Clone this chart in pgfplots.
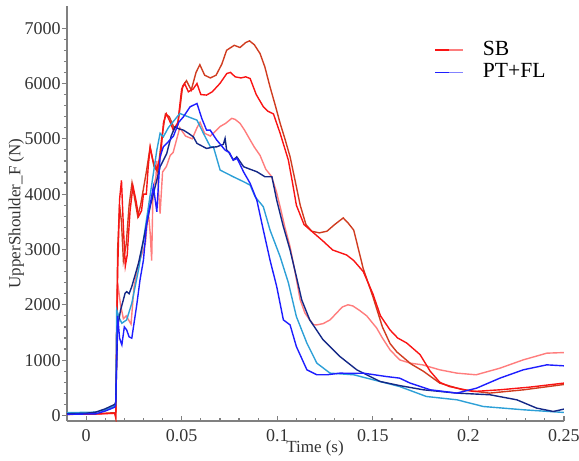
\documentclass[border=0pt]{standalone}
\usepackage{fontspec}
\setmainfont{Liberation Serif}
\usepackage{pgfplots}
\pgfplotsset{compat=1.18}

\definecolor{sbdark}{RGB}{208,60,32}
\definecolor{sbred}{RGB}{250,20,20}
\definecolor{sblight}{RGB}{255,125,125}
\definecolor{ptblue}{RGB}{30,30,255}
\definecolor{ptnavy}{RGB}{20,40,135}
\definecolor{ptcyan}{RGB}{45,160,215}

\begin{document}
\begin{tikzpicture}
% page = reference frame, axis box lower left at (0,0)
\useasboundingbox (-33.5pt,-20pt) rectangle (256pt,210.5pt);
\begin{axis}[
  scale only axis,
  at={(0pt,0pt)}, anchor=south west,
  width=248.5pt, height=207.5pt,
  xmin=-0.01, xmax=0.25,
  ymin=-100, ymax=7400,
  axis lines=left,
  axis line style={-, draw=gray, line width=0.9pt},
  xtick={0,0.05,0.1,0.15,0.2,0.25},
  xticklabels={0,0.05,0.1,0.15,0.2,0.25},
  minor x tick num=4,
  ytick={0,1000,2000,3000,4000,5000,6000,7000},
  yticklabels={0,1000,2000,3000,4000,5000,6000,7000},
  minor y tick num=4,
  x tick style={draw=gray, line width=0.6pt},
  y tick style={draw=gray, line width=0.6pt},
  xtick align=inside, ytick align=outside,
  major tick length=2.6pt, minor tick length=1.6pt,
  ticklabel style={font=\fontsize{9}{10}\selectfont, text=black!80},
  yticklabel style={xshift=3pt},
  xticklabel style={yshift=-0.5pt},
  xlabel={Time (s)},
  ylabel={UpperShoulder\_F (N)},
  label style={font=\fontsize{8.5}{10}\selectfont, text=black!80},
  xlabel style={at={(rel axis cs:0.499,-0.066)}, anchor=center},
  ylabel style={at={(rel axis cs:-0.102,0.50)}, anchor=center},
  legend style={at={(rel axis cs:0.738,0.925)}, anchor=north west, draw=none, fill=none,
    font=\fontsize{10.8}{12}\selectfont, row sep=-1.5pt, inner sep=0pt, column sep=7.5pt},
  legend cell align=left,
  legend image code/.code={
    \draw[#1, line width=0.9pt] (0pt,0pt) -- (7pt,0pt);
    \draw[#1, line width=0.9pt, opacity=0.55] (7pt,0pt) -- (14pt,0pt);
  },
  every axis plot/.append style={line width=0.7pt},
]

% SB, lightest
\addplot[sblight, forget plot] coordinates {
(-0.01,30)(0.005,30)(0.015,40)(0.0155,0)(0.016,1400)(0.0165,2400)(0.018,2000)
(0.0195,1750)(0.021,1800)(0.0235,1650)(0.025,2300)(0.027,2700)(0.029,2900)
(0.031,3100)(0.0325,3700)(0.0335,3300)(0.0343,2800)(0.035,4100)(0.0365,4300)
(0.037,4600)(0.038,4000)(0.0387,3650)(0.040,4400)(0.042,4500)(0.044,4700)
(0.0455,4750)(0.049,5200)(0.052,5050)(0.0555,5000)(0.058,5200)(0.0596,5300)
(0.062,5100)(0.065,5050)(0.068,5150)(0.070,5220)(0.073,5280)(0.0762,5370)
(0.078,5350)(0.0805,5280)(0.083,5150)(0.0858,4980)(0.088,4850)(0.091,4700)
(0.094,4450)(0.097,4320)(0.0995,4050)(0.1015,3773)(0.104,3400)(0.1067,3050)
(0.109,2650)(0.112,2088)(0.1145,1850)(0.117,1727)(0.119,1640)(0.1207,1637)
(0.124,1660)(0.1276,1727)(0.131,1850)(0.134,1960)(0.137,2000)(0.1395,1980)
(0.143,1900)(0.1468,1800)(0.152,1580)(0.155,1400)(0.159,1186)(0.164,1005)
(0.1695,946)(0.176,915)(0.185,825)(0.194,765)(0.204,735)(0.2165,855)
(0.2287,1005)(0.241,1126)(0.250,1137)
};

% SB, dark
\addplot[sbdark, forget plot] coordinates {
(-0.01,30)(0.005,30)(0.015,50)(0.0155,-40)(0.016,1500)(0.0165,3000)(0.0175,3800)
(0.0185,3500)(0.0195,2800)(0.021,3100)(0.0225,3800)(0.024,4200)(0.0255,3900)
(0.027,3600)(0.0285,3800)(0.030,4100)(0.0315,4400)(0.0335,4850)(0.0355,4500)
(0.0375,4400)(0.0395,5000)(0.0415,5450)(0.0435,5400)(0.046,5200)(0.048,5250)
(0.0505,5950)(0.0525,6050)(0.055,5880)(0.0575,6200)(0.0595,6340)(0.062,6150)
(0.065,6100)(0.068,6150)(0.071,6350)(0.0735,6600)(0.0775,6690)(0.0805,6650)
(0.0835,6740)(0.0855,6770)(0.088,6700)(0.091,6540)(0.0935,6300)(0.0962,5940)
(0.099,5600)(0.1015,5280)(0.104,5000)(0.1067,4675)(0.109,4300)(0.112,3800)
(0.115,3450)(0.118,3330)(0.122,3300)(0.126,3330)(0.130,3450)(0.1345,3570)
(0.137,3480)(0.140,3350)(0.145,2650)(0.150,2150)(0.155,1600)(0.159,1300)
(0.1625,1150)(0.170,930)(0.1764,800)(0.185,585)(0.197,464)(0.211,404)
(0.229,464)(0.250,560)
};

% SB, red
\addplot[sbred] coordinates {
(-0.01,20)(0.005,25)(0.015,40)(0.0155,-30)(0.016,1500)(0.0165,2600)(0.0175,3900)
(0.0185,4250)(0.0195,3400)(0.0205,2700)(0.0215,2900)(0.023,3700)(0.0245,4150)
(0.026,3900)(0.0275,3600)(0.029,3700)(0.030,4000)(0.0315,4000)(0.0325,4500)
(0.0335,4850)(0.035,4600)(0.037,4450)(0.039,4700)(0.0405,5300)(0.042,5450)
(0.044,5300)(0.0457,5150)(0.048,5300)(0.050,5900)(0.0515,6000)(0.0535,5850)
(0.056,5900)(0.058,6000)(0.060,5800)(0.063,5790)(0.066,5850)(0.070,6000)
(0.0736,6180)(0.0755,6200)(0.078,6120)(0.081,6100)(0.0835,6120)(0.0858,6090)
(0.089,5800)(0.0927,5580)(0.095,5500)(0.098,5450)(0.1015,5100)(0.1058,4615)
(0.108,4200)(0.110,3800)(0.114,3450)(0.119,3300)(0.124,3150)(0.129,2990)
(0.1363,2900)(0.140,2800)(0.145,2600)(0.150,2200)(0.154,1800)(0.159,1545)
(0.163,1400)(0.1677,1310)(0.1747,1100)(0.180,800)(0.185,600)(0.190,523)
(0.2026,433)(0.2165,464)(0.232,512)(0.250,585)
};
\addlegendentry{SB}

% PT+FL, cyan
\addplot[ptcyan, forget plot] coordinates {
(-0.01,50)(0.005,60)(0.010,100)(0.015,170)(0.0155,200)(0.016,1908)(0.0175,1750)
(0.0187,1667)(0.0212,1727)(0.0239,2029)(0.0274,2630)(0.030,3171)(0.0352,4375)
(0.037,4796)(0.0387,5100)(0.0404,5036)(0.043,5200)(0.0465,5350)(0.049,5458)
(0.0535,5397)(0.058,5337)(0.0614,5097)(0.065,4855)(0.0666,4855)(0.0701,4435)
(0.077,4314)(0.0824,4224)(0.0858,4164)(0.0884,3953)(0.0927,3773)(0.0962,3352)
(0.1015,2870)(0.1058,2400)(0.110,1787)(0.1155,1307)(0.1207,946)(0.1276,765)
(0.140,735)(0.1503,644)(0.164,523)(0.178,343)(0.194,283)(0.2078,162)
(0.2287,103)(0.250,54)
};

% PT+FL, navy
\addplot[ptnavy, forget plot] coordinates {
(-0.01,30)(0.0,40)(0.005,60)(0.010,120)(0.015,200)(0.0155,250)(0.0165,1600)
(0.018,1900)(0.0204,2209)(0.0212,2238)(0.0225,2200)(0.0239,2330)(0.0274,2750)
(0.030,3171)(0.0335,3773)(0.0387,4495)(0.0422,4736)(0.0445,5050)(0.0465,5217)
(0.0485,5180)(0.0509,5157)(0.0535,5100)(0.0561,5036)(0.058,4917)(0.0614,4855)
(0.063,4826)(0.0666,4850)(0.0683,4855)(0.0718,4900)(0.0727,5007)(0.0735,4800)
(0.0745,4765)(0.077,4615)(0.0788,4675)(0.0824,4495)(0.0858,4450)(0.0893,4405)
(0.0936,4314)(0.0972,4314)(0.0997,3893)(0.1032,3412)(0.1067,2990)(0.110,2509)
(0.1128,2088)(0.117,1727)(0.124,1366)(0.1328,1065)(0.1416,825)(0.1538,614)
(0.164,540)(0.1764,464)(0.194,404)(0.2113,374)(0.2253,283)(0.2357,133)
(0.2444,72)(0.250,115)
};

% PT+FL, blue
\addplot[ptblue] coordinates {
(-0.01,20)(0.005,30)(0.010,80)(0.015,150)(0.0155,200)(0.0165,1800)(0.0175,1400)
(0.0187,1276)(0.020,1600)(0.0212,1547)(0.0225,1420)(0.0239,1397)(0.0265,2000)
(0.0282,2450)(0.030,2810)(0.0317,3473)(0.0352,4134)(0.037,3682)(0.0387,4675)
(0.0404,4855)(0.0422,4917)(0.0457,5050)(0.0485,5300)(0.0509,5397)(0.0544,5578)
(0.058,5639)(0.0605,5370)(0.063,5157)(0.0649,5157)(0.0683,4980)(0.0727,4796)
(0.075,4750)(0.077,4615)(0.079,4646)(0.0824,4400)(0.0858,4195)(0.0893,3893)
(0.0927,3352)(0.0962,2810)(0.0997,2330)(0.1032,1727)(0.1067,1637)(0.110,1245)
(0.1155,825)(0.1207,735)(0.126,735)(0.1328,765)(0.140,760)(0.145,765)
(0.157,704)(0.164,675)(0.1695,585)(0.180,464)(0.194,404)(0.2043,494)
(0.2165,675)(0.2287,825)(0.241,915)(0.250,897)
};
\addlegendentry{PT+FL}
\end{axis}
\end{tikzpicture}
\end{document}
